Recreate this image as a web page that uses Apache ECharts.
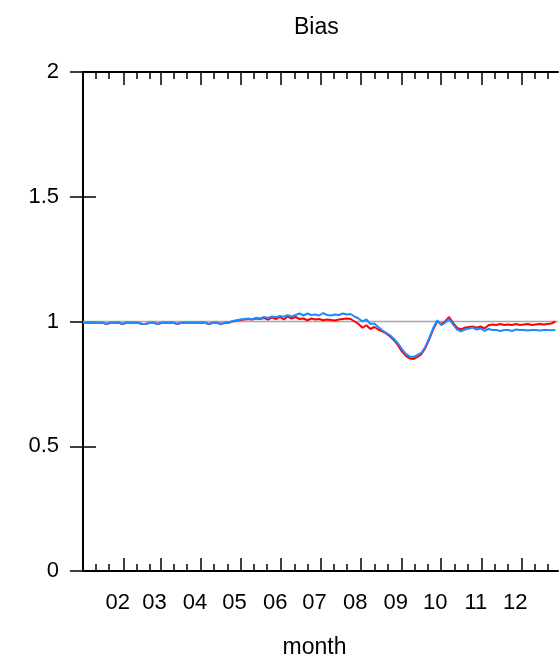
<!DOCTYPE html>
<html>
<head>
<meta charset="utf-8">
<script src="https://cdn.jsdelivr.net/npm/echarts@6/dist/echarts.min.js"></script>
<style>
html,body{margin:0;padding:0;background:#fff;}
#chart{width:560px;height:657px;}
</style>
</head>
<body>
<div id="chart"></div>
<script>
// ---- data ----
const titleText = 'Bias';
const xAxisName = 'month';
const dayStep = 3; // one sample every 3 days, starting Jan 1 (day 0)
const xMaxDay = 362;
const monthStartDays = [0, 31, 59, 90, 120, 151, 181, 212, 243, 273, 304, 334];
const monthLabels = ['01', '02', '03', '04', '05', '06', '07', '08', '09', '10', '11', '12'];
const labeledMonthDays = [31, 59, 90, 120, 151, 181, 212, 243, 273, 304, 334];
const minorTickOffsets = [10, 20];
const yTicks = [0, 0.5, 1, 1.5, 2];
const referenceValue = 1;

const redValues = [
  0.995, 0.995, 0.996, 0.995, 0.995, 0.995, 0.990, 0.995, 0.995, 0.996,
  0.990, 0.995, 0.995, 0.995, 0.995, 0.990, 0.991, 0.995, 0.995, 0.990,
  0.995, 0.995, 0.995, 0.995, 0.990, 0.995, 0.995, 0.995, 0.995, 0.995,
  0.995, 0.995, 0.990, 0.995, 0.995, 0.990, 0.995, 0.995, 1.000, 1.003,
  1.006, 1.008, 1.010, 1.008, 1.012, 1.010, 1.014, 1.008, 1.016, 1.010,
  1.018, 1.008, 1.020, 1.012, 1.018, 1.010, 1.012, 1.005, 1.012, 1.008,
  1.010, 1.005, 1.008, 1.006, 1.004, 1.008, 1.010, 1.012, 1.010, 1.000,
  0.990, 0.975, 0.985, 0.970, 0.978, 0.968, 0.960, 0.952, 0.940, 0.925,
  0.905, 0.880, 0.862, 0.852, 0.850, 0.858, 0.870, 0.895, 0.930, 0.970,
  1.000, 0.990, 1.000, 1.018, 0.995, 0.975, 0.968, 0.975, 0.978, 0.980,
  0.975, 0.980, 0.972, 0.985, 0.988, 0.986, 0.990, 0.986, 0.988, 0.986,
  0.990, 0.986, 0.988, 0.990, 0.986, 0.988, 0.990, 0.988, 0.990, 0.992,
  1.000
];

const blueValues = [
  0.995, 0.995, 0.996, 0.995, 0.995, 0.995, 0.990, 0.995, 0.995, 0.996,
  0.990, 0.995, 0.995, 0.995, 0.995, 0.990, 0.991, 0.995, 0.995, 0.990,
  0.995, 0.995, 0.995, 0.995, 0.990, 0.995, 0.995, 0.995, 0.995, 0.995,
  0.995, 0.995, 0.990, 0.995, 0.995, 0.990, 0.995, 0.995, 1.002, 1.005,
  1.008, 1.010, 1.012, 1.009, 1.015, 1.012, 1.018, 1.014, 1.020, 1.017,
  1.022, 1.019, 1.025, 1.020, 1.026, 1.032, 1.024, 1.032, 1.026, 1.028,
  1.024, 1.034, 1.026, 1.024, 1.028, 1.026, 1.032, 1.028, 1.030, 1.020,
  1.012, 1.000, 1.008, 0.990, 0.992, 0.978, 0.965, 0.955, 0.945, 0.930,
  0.912, 0.890, 0.870, 0.860, 0.858, 0.866, 0.875, 0.900, 0.935, 0.975,
  1.005, 0.985, 0.995, 1.010, 0.988, 0.968, 0.960, 0.968, 0.972, 0.976,
  0.968, 0.972, 0.962, 0.970, 0.966, 0.966, 0.962, 0.966, 0.966, 0.962,
  0.968, 0.966, 0.966, 0.964, 0.966, 0.966, 0.964, 0.966, 0.966, 0.965,
  0.966
];

// ---- build ----
const toPairs = vals => vals.map((v, i) => [i * dayStep, v]);
const minorTickDays = [];
monthStartDays.forEach(d => minorTickOffsets.forEach(o => { if (d + o < xMaxDay) minorTickDays.push(d + o); }));

const FONT = 'Liberation Sans, Arial, sans-serif';
const black = '#000';

function xAxisBase(position, ticks, len, showLabel, showLine) {
  return {
    type: 'value', position: position, min: 0, max: xMaxDay,
    axisLine: { show: showLine, onZero: false, lineStyle: { color: black, width: 2 } },
    axisTick: { show: true, inside: true, length: len, customValues: ticks, lineStyle: { color: black, width: 1.5 } },
    axisLabel: showLabel ? {
      show: true, customValues: labeledMonthDays, margin: 21,
      color: black, fontFamily: FONT, fontSize: 22, padding: [0, 12, 0, 0],
      formatter: v => monthLabels[monthStartDays.indexOf(v)]
    } : { show: false },
    splitLine: { show: false }
  };
}

const chart = echarts.init(document.getElementById('chart'), null, { renderer: 'canvas' });
chart.setOption({
  animation: false,
  backgroundColor: '#fff',
  title: {
    text: titleText, left: 289, top: 11,
    textStyle: { color: black, fontFamily: FONT, fontSize: 23, fontWeight: 'normal' }
  },
  grid: { left: 83, right: 2, top: 72, bottom: 86, containLabel: false, outerBoundsMode: 'none' },
  xAxis: [
    Object.assign(xAxisBase('bottom', monthStartDays, 13, true, true), {
      name: xAxisName, nameLocation: 'middle', nameGap: 65,
      nameTextStyle: { color: black, fontFamily: FONT, fontSize: 23, padding: [0, 12, 0, 0] }
    }),
    xAxisBase('bottom', minorTickDays, 7, false, false),
    xAxisBase('top', monthStartDays, 13, false, true),
    xAxisBase('top', minorTickDays, 7, false, false)
  ],
  yAxis: [
    {
      type: 'value', position: 'left', min: 0, max: 2, interval: 0.5,
      axisLine: { show: true, lineStyle: { color: black, width: 2 } },
      axisTick: { show: true, inside: true, length: 13, lineStyle: { color: black, width: 1.5 } },
      axisLabel: { color: black, fontFamily: FONT, fontSize: 22, margin: 24,
        formatter: v => yTicks.indexOf(v) >= 0 ? String(v) : '' },
      splitLine: { show: false }
    },
    {
      type: 'value', position: 'right', min: 0, max: 2, interval: 0.5,
      axisLine: { show: true, lineStyle: { color: black, width: 2 } },
      axisTick: { show: true, inside: true, length: 13, lineStyle: { color: black, width: 1.5 } },
      axisLabel: { show: false },
      splitLine: { show: false }
    }
  ],
  series: [
    {
      name: 'reference', type: 'line', xAxisIndex: 0, yAxisIndex: 0,
      data: [[0, referenceValue], [xMaxDay, referenceValue]],
      symbol: 'none', silent: true,
      lineStyle: { color: '#a8a8a8', width: 1.5 }
    },
    {
      name: 'red', type: 'line', xAxisIndex: 0, yAxisIndex: 0,
      data: toPairs(redValues), symbol: 'none',
      lineStyle: { color: '#ff0000', width: 2 }
    },
    {
      name: 'blue', type: 'line', xAxisIndex: 0, yAxisIndex: 0,
      data: toPairs(blueValues), symbol: 'none',
      lineStyle: { color: '#1e8cff', width: 2 }
    }
  ]
});
</script>
</body>
</html>
